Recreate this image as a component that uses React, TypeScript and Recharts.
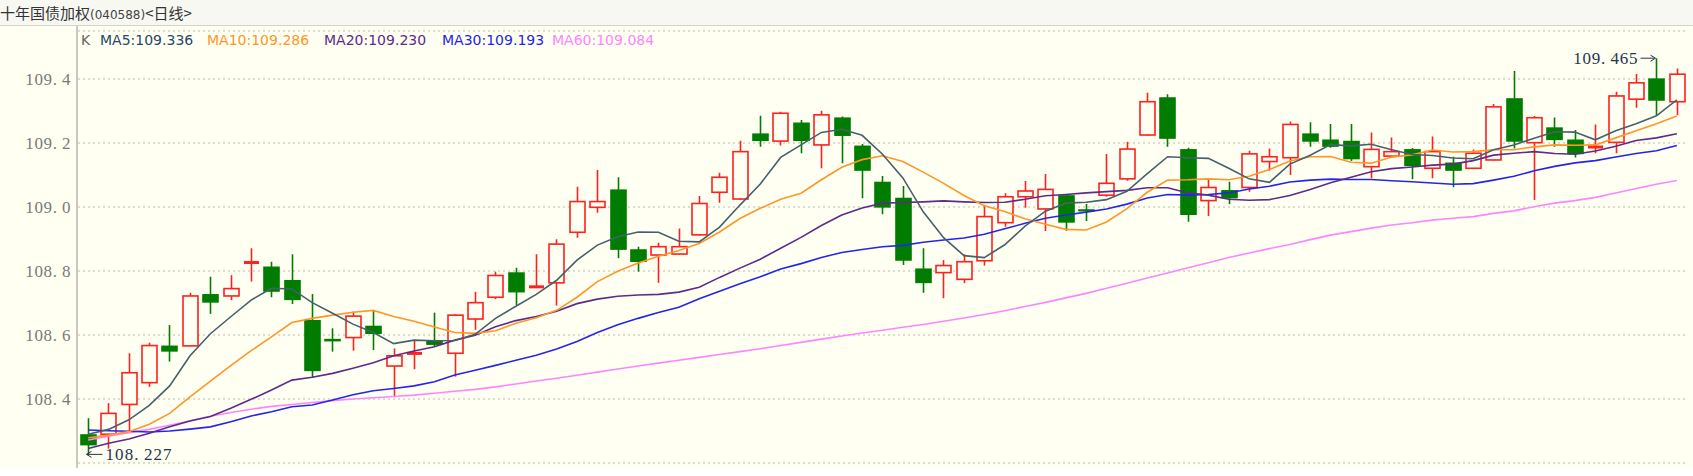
import React from 'react';
import { ComposedChart, Bar, Line, XAxis, YAxis, CartesianGrid } from 'recharts';

// daily OHLC
const opens = [
  108.290, 108.290, 108.383, 108.451, 108.567, 108.566, 108.728, 108.722, 108.825, 108.814,
  108.772, 108.647, 108.588, 108.592, 108.629, 108.503, 108.541, 108.584, 108.543, 108.650,
  108.718, 108.796, 108.749, 108.763, 108.921, 108.999, 109.055, 108.868, 108.850, 108.853,
  108.913, 109.046, 109.025, 109.230, 109.206, 109.264, 109.194, 109.280, 109.192, 109.079,
  109.029, 108.808, 108.795, 108.774, 108.832, 108.951, 109.032, 108.994, 109.037, 108.993,
  109.037, 109.088, 109.225, 109.343, 109.181, 109.020, 109.053, 109.061, 109.142, 109.154,
  109.230, 109.211, 109.207, 109.126, 109.159, 109.181, 109.121, 109.139, 109.121, 109.147,
  109.340, 109.201, 109.249, 109.211, 109.184, 109.202, 109.337, 109.402, 109.329,
];
const highs = [
  108.340, 108.387, 108.543, 108.576, 108.631, 108.732, 108.782, 108.787, 108.871, 108.829,
  108.852, 108.728, 108.621, 108.673, 108.675, 108.558, 108.584, 108.670, 108.665, 108.735,
  108.798, 108.810, 108.852, 108.899, 109.063, 109.116, 109.093, 108.876, 108.888, 108.933,
  109.034, 109.107, 109.207, 109.285, 109.298, 109.272, 109.301, 109.283, 109.197, 109.097,
  109.066, 108.871, 108.834, 108.852, 109.006, 109.043, 109.081, 109.103, 109.040, 109.009,
  109.166, 109.204, 109.357, 109.352, 109.185, 109.090, 109.079, 109.176, 109.183, 109.267,
  109.265, 109.259, 109.259, 109.233, 109.217, 109.184, 109.220, 109.157, 109.180, 109.322,
  109.425, 109.284, 109.280, 109.241, 109.258, 109.360, 109.416, 109.465, 109.433,
];
const lows = [
  108.227, 108.245, 108.295, 108.438, 108.517, 108.565, 108.666, 108.709, 108.767, 108.718,
  108.697, 108.468, 108.548, 108.551, 108.553, 108.407, 108.493, 108.563, 108.470, 108.616,
  108.712, 108.694, 108.748, 108.692, 108.904, 108.982, 108.840, 108.798, 108.763, 108.851,
  108.911, 109.013, 109.022, 109.188, 109.192, 109.168, 109.121, 109.137, 109.027, 108.977,
  108.819, 108.732, 108.715, 108.762, 108.817, 108.938, 108.998, 108.925, 108.926, 108.956,
  109.032, 109.082, 109.223, 109.188, 108.954, 108.972, 109.009, 109.048, 109.113, 109.100,
  109.188, 109.185, 109.144, 109.090, 109.157, 109.087, 109.090, 109.062, 109.119, 109.145,
  109.183, 109.022, 109.188, 109.155, 109.168, 109.168, 109.310, 109.287, 109.287,
];
const closes = [
  108.255, 108.355, 108.482, 108.567, 108.548, 108.722, 108.701, 108.745, 108.828, 108.735,
  108.709, 108.487, 108.580, 108.659, 108.603, 108.535, 108.544, 108.569, 108.662, 108.701,
  108.786, 108.733, 108.752, 108.884, 109.017, 109.017, 108.866, 108.828, 108.876, 108.876,
  109.011, 109.093, 109.173, 109.206, 109.293, 109.206, 109.288, 109.222, 109.113, 108.998,
  108.832, 108.762, 108.817, 108.829, 108.970, 109.032, 109.050, 109.055, 108.951, 108.986,
  109.074, 109.181, 109.329, 109.213, 108.975, 109.061, 109.027, 109.166, 109.157, 109.258,
  109.204, 109.188, 109.149, 109.180, 109.173, 109.128, 109.173, 109.113, 109.168, 109.313,
  109.204, 109.279, 109.209, 109.165, 109.191, 109.347, 109.388, 109.332, 109.415,
];

// moving average lines
const ma5 = [
  108.290, 108.305, 108.335, 108.380, 108.441, 108.535, 108.604, 108.657, 108.709, 108.746,
  108.744, 108.701, 108.668, 108.634, 108.608, 108.573, 108.584, 108.582, 108.583, 108.602,
  108.652, 108.690, 108.727, 108.771, 108.834, 108.881, 108.907, 108.922, 108.921, 108.893,
  108.891, 108.937, 109.006, 109.072, 109.155, 109.194, 109.233, 109.243, 109.224, 109.165,
  109.091, 108.985, 108.904, 108.848, 108.842, 108.882, 108.940, 108.987, 109.012, 109.015,
  109.023, 109.049, 109.104, 109.157, 109.154, 109.152, 109.121, 109.088, 109.077, 109.134,
  109.162, 109.195, 109.191, 109.196, 109.179, 109.164, 109.161, 109.153, 109.151, 109.179,
  109.194, 109.215, 109.235, 109.234, 109.210, 109.238, 109.260, 109.285, 109.335,
];
const ma10 = [
  108.279, 108.287, 108.298, 108.321, 108.355, 108.407, 108.456, 108.504, 108.551, 108.594,
  108.639, 108.652, 108.662, 108.671, 108.677, 108.658, 108.643, 108.625, 108.608, 108.605,
  108.613, 108.637, 108.654, 108.677, 108.718, 108.767, 108.799, 108.825, 108.846, 108.864,
  108.886, 108.922, 108.964, 108.996, 109.024, 109.043, 109.085, 109.124, 109.148, 109.160,
  109.142, 109.109, 109.074, 109.036, 109.004, 108.986, 108.963, 108.946, 108.930, 108.928,
  108.953, 108.995, 109.046, 109.084, 109.085, 109.088, 109.085, 109.096, 109.117, 109.144,
  109.157, 109.158, 109.140, 109.137, 109.156, 109.163, 109.178, 109.172, 109.173, 109.179,
  109.179, 109.188, 109.194, 109.193, 109.194, 109.216, 109.238, 109.260, 109.284,
];
const ma20 = [
  108.245, 108.262, 108.275, 108.293, 108.313, 108.331, 108.345, 108.371, 108.399, 108.428,
  108.459, 108.468, 108.480, 108.496, 108.513, 108.535, 108.550, 108.563, 108.584, 108.599,
  108.626, 108.645, 108.658, 108.674, 108.698, 108.712, 108.721, 108.725, 108.727, 108.734,
  108.749, 108.780, 108.809, 108.837, 108.871, 108.905, 108.942, 108.975, 108.997, 109.012,
  109.014, 109.016, 109.019, 109.016, 109.014, 109.015, 109.024, 109.035, 109.039, 109.044,
  109.048, 109.052, 109.060, 109.060, 109.044, 109.037, 109.024, 109.021, 109.023, 109.036,
  109.055, 109.076, 109.093, 109.110, 109.120, 109.125, 109.131, 109.134, 109.145, 109.162,
  109.168, 109.173, 109.167, 109.165, 109.175, 109.190, 109.208, 109.216, 109.229,
];
const ma30 = [
  108.303, 108.301, 108.299, 108.297, 108.300, 108.306, 108.313, 108.329, 108.347, 108.360,
  108.376, 108.381, 108.397, 108.413, 108.426, 108.433, 108.441, 108.454, 108.475, 108.490,
  108.505, 108.521, 108.537, 108.556, 108.580, 108.608, 108.632, 108.652, 108.670, 108.687,
  108.713, 108.737, 108.760, 108.782, 108.806, 108.823, 108.842, 108.858, 108.867, 108.876,
  108.880, 108.890, 108.897, 108.903, 108.915, 108.932, 108.949, 108.965, 108.975, 108.984,
  108.994, 109.009, 109.028, 109.039, 109.037, 109.039, 109.044, 109.056, 109.065, 109.078,
  109.084, 109.087, 109.086, 109.086, 109.082, 109.079, 109.075, 109.071, 109.073, 109.084,
  109.096, 109.113, 109.127, 109.138, 109.145, 109.156, 109.167, 109.176, 109.192,
];
const ma60 = [
  108.272, 108.284, 108.295, 108.305, 108.318, 108.332, 108.346, 108.358, 108.368, 108.377,
  108.383, 108.389, 108.395, 108.400, 108.404, 108.408, 108.412, 108.418, 108.424, 108.430,
  108.438, 108.447, 108.456, 108.465, 108.474, 108.484, 108.494, 108.503, 108.512, 108.521,
  108.530, 108.539, 108.548, 108.557, 108.567, 108.577, 108.587, 108.597, 108.606, 108.615,
  108.624, 108.633, 108.643, 108.653, 108.664, 108.676, 108.689, 108.702, 108.716, 108.730,
  108.746, 108.762, 108.778, 108.794, 108.810, 108.826, 108.842, 108.856, 108.870, 108.883,
  108.898, 108.912, 108.923, 108.934, 108.944, 108.951, 108.959, 108.965, 108.970, 108.980,
  108.988, 109.001, 109.012, 109.020, 109.030, 109.044, 109.058, 109.071, 109.083,
];

const yTicks = [108.4, 108.6, 108.8, 109.0, 109.2, 109.4];

const legendNames = ['MA5', 'MA10', 'MA20', 'MA30', 'MA60'];
const legendValues = ['109.336', '109.286', '109.230', '109.193', '109.084'];
const legendColors = ['#27476b', '#ff9626', '#5e2a8c', '#2424f0', '#ff85ff'];
const legendLeft = [100, 207, 324, 442, 552];

const BG = '#fffff2';
const RED = '#ff2020';
const GREEN = '#007d00';
const MONO = '"Liberation Serif", serif';

const maxHigh = Math.max(...highs);
const minLow = Math.min(...lows);

const data = closes.map((c, i) => ({
  i,
  open: opens[i],
  high: highs[i],
  low: lows[i],
  close: c,
  ma5: ma5[i],
  ma10: ma10[i],
  ma20: ma20[i],
  ma30: ma30[i],
  ma60: ma60[i],
}));

// serif digits on a fixed pitch, like the old bitmap font
function MonoText({ x, y, text, pitch, fill, size }: any) {
  const xs = text.split('').map((_: string, k: number) => (x + k * pitch).toFixed(1)).join(' ');
  return (
    <text x={xs} y={y} fill={fill} fontSize={size} fontFamily={MONO}>
      {text}
    </text>
  );
}

function YTick(props: any) {
  const { y, payload } = props;
  const s = Number(payload.value).toFixed(1);
  return <MonoText x={70.5 - (s.length - 1) * 9.2 - 8.5} y={y + 6} text={s} pitch={9.2} fill="#7a7a7a" size={17} />;
}

function Candle(props: any) {
  const { x, y, width, height, payload } = props;
  if (!payload) return null;
  const { open, close, high, low } = payload;
  const yTop = Math.min(y, y + height);
  const h = Math.abs(height);
  const k = h / (high - low || 1);
  const py = (v: number) => yTop + (high - v) * k;
  const cx = Math.round(x + width / 2) + 0.5;
  const up = close >= open;
  const color = up ? RED : GREEN;
  const bTop = py(Math.max(open, close));
  const bBot = py(Math.min(open, close));
  const yLow = yTop + h;
  const bw = 15;
  const parts: any[] = [];

  if (up) {
    if (bBot - bTop < 2.5) {
      parts.push(<line key="w" x1={cx} x2={cx} y1={yTop} y2={yLow} stroke={color} strokeWidth={1.6} />);
      parts.push(<rect key="b" x={cx - bw / 2} y={(bTop + bBot) / 2 - 1.5} width={bw} height={3} fill={color} />);
    } else {
      parts.push(<line key="w1" x1={cx} x2={cx} y1={yTop} y2={bTop} stroke={color} strokeWidth={1.6} />);
      parts.push(<line key="w2" x1={cx} x2={cx} y1={bBot} y2={yLow} stroke={color} strokeWidth={1.6} />);
      parts.push(
        <rect key="b" x={cx - bw / 2} y={bTop} width={bw} height={bBot - bTop} fill={BG} stroke={color} strokeWidth={1.6} />
      );
    }
  } else {
    parts.push(<line key="w" x1={cx} x2={cx} y1={yTop} y2={yLow} stroke={color} strokeWidth={1.6} />);
    parts.push(
      <rect key="b" x={cx - bw / 2 - 0.8} y={bTop} width={bw + 1.6} height={Math.max(2, bBot - bTop)} fill={color} />
    );
  }

  if (high === maxHigh) {
    const s = high.toFixed(3);
    const end = cx - 19;
    parts.push(
      <MonoText key="mx" x={end - (s.length - 1) * 9.3 - 8.5} y={yTop + 6} text={s} pitch={9.3} fill="#26344e" size={17} />
    );
    parts.push(<line key="ma" x1={cx - 16} x2={cx - 2} y1={yTop} y2={yTop} stroke="#26344e" strokeWidth={1} />);
    parts.push(<path key="mh" d={`M${cx - 6},${yTop - 3} L${cx - 1},${yTop} L${cx - 6},${yTop + 3}`} fill="none" stroke="#26344e" strokeWidth={1} />);
  }
  if (low === minLow) {
    const s = low.toFixed(3);
    parts.push(<line key="na" x1={cx - 2} x2={cx + 14} y1={yLow} y2={yLow} stroke="#26344e" strokeWidth={1} />);
    parts.push(<path key="nh" d={`M${cx + 3},${yLow - 3} L${cx - 2},${yLow} L${cx + 3},${yLow + 3}`} fill="none" stroke="#26344e" strokeWidth={1} />);
    parts.push(<MonoText key="mn" x={cx + 17} y={yLow + 6} text={s} pitch={9.6} fill="#26344e" size={17} />);
  }
  return <g>{parts}</g>;
}

export default function App() {
  return (
    <div style={{ position: 'absolute', left: 0, top: 0, width: 1693, height: 476, background: BG, overflow: 'hidden' }}>
      <ComposedChart width={1693} height={476} data={data} margin={{ top: 31, right: 6, bottom: 13, left: 0 }}>
        <CartesianGrid vertical={false} stroke="#b9b9b0" strokeDasharray="2 3" />
        <XAxis dataKey="i" hide />
        <YAxis
          domain={[108.2, 109.55]}
          ticks={yTicks}
          width={78}
          axisLine={false}
          tickLine={false}
          interval={0}
          allowDataOverflow
          tick={<YTick />}
        />
        <Bar dataKey={(d: any) => [d.low, d.high]} barSize={16} shape={(p: any) => <Candle {...p} />} isAnimationActive={false} />
        <Line dataKey="ma60" stroke="#ff85ff" strokeWidth={1.6} dot={false} activeDot={false} isAnimationActive={false} />
        <Line dataKey="ma30" stroke="#2424f0" strokeWidth={1.6} dot={false} activeDot={false} isAnimationActive={false} />
        <Line dataKey="ma20" stroke="#5e2a8c" strokeWidth={1.6} dot={false} activeDot={false} isAnimationActive={false} />
        <Line dataKey="ma10" stroke="#ff9626" strokeWidth={1.6} dot={false} activeDot={false} isAnimationActive={false} />
        <Line dataKey="ma5" stroke="#46606f" strokeWidth={1.6} dot={false} activeDot={false} isAnimationActive={false} />
      </ComposedChart>

      <div
        style={{
          position: 'absolute', left: 0, top: 0, width: 1693, height: 25,
          background: '#f8f8f3', borderBottom: '1px solid #d4d4cc',
          fontFamily: '"Noto Sans CJK SC", sans-serif', fontSize: 15, lineHeight: '25px',
          color: '#333', whiteSpace: 'nowrap',
        }}
      >
        <span>十年国债加权</span>
        <span style={{ fontSize: 12, fontFamily: '"DejaVu Sans", sans-serif', color: '#444' }}>(040588)</span>
        <span>&lt;日线&gt;</span>
      </div>

      <div style={{ position: 'absolute', left: 76, top: 26, width: 2, height: 442, background: '#c9c9c2' }} />
      <div style={{ position: 'absolute', left: 0, top: 468, width: 1693, height: 8, background: '#ffffff' }} />

      <div
        style={{
          position: 'absolute', left: 81, top: 31, fontFamily: '"DejaVu Sans", sans-serif',
          fontSize: 14, lineHeight: '18px', color: '#666',
        }}
      >
        K
      </div>
      {legendNames.map((n, k) => (
        <div
          key={n}
          style={{
            position: 'absolute', left: legendLeft[k], top: 31, fontFamily: '"DejaVu Sans", sans-serif',
            fontSize: 14, lineHeight: '18px', color: legendColors[k], whiteSpace: 'nowrap',
          }}
        >
          {n}:{legendValues[k]}
        </div>
      ))}
    </div>
  );
}
